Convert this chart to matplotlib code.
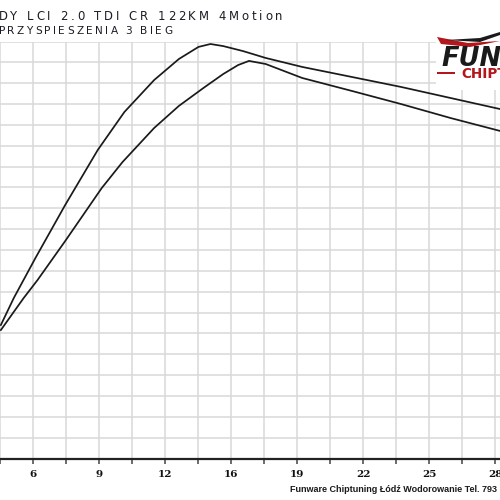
import matplotlib
matplotlib.use("Agg")
import matplotlib.pyplot as plt
from matplotlib.patches import Rectangle, Polygon
from matplotlib.font_manager import FontProperties
from matplotlib.textpath import TextToPath

# ---- data ----
upper_x = [4.44, 5.07, 6.12, 7.56, 9.14, 10.43, 11.87, 13.07, 14.02, 14.60, 15.22,
           16.18, 17.28, 19.05, 21.45, 23.84, 26.24, 28.64, 29.11]
upper_y = [6.40, 7.70, 9.62, 12.16, 14.80, 16.62, 18.15, 19.16, 19.74, 19.88, 19.78,
           19.54, 19.21, 18.78, 18.30, 17.82, 17.29, 16.76, 16.67]

lower_x = [4.44, 5.55, 6.22, 7.56, 9.33, 10.34, 11.87, 13.07, 14.26, 15.22, 15.94,
           16.47, 17.28, 19.05, 21.45, 23.84, 26.24, 28.64, 29.11]
lower_y = [6.16, 7.70, 8.56, 10.43, 12.97, 14.22, 15.85, 16.91, 17.77, 18.44, 18.87,
           19.07, 18.92, 18.25, 17.63, 17.00, 16.33, 15.71, 15.56]

major_ticks = [6, 9.2, 12.4, 15.6, 18.8, 22.0, 25.2, 28.4]
major_labels = ["6", "9", "12", "16", "19", "22", "25", "28"]
minor_ticks = [4.4, 7.6, 10.8, 14.0, 17.2, 20.4, 23.6, 26.8]
y_grid = list(range(0, 21))

title_line1 = "DY LCI 2.0 TDI CR 122KM 4Motion"
title_line2 = "PRZYSPIESZENIA 3 BIEG"
footer = "Funware Chiptuning Łódź Wodorowanie Tel. 793"

W, H = 500, 500
DPI = 100
fig = plt.figure(figsize=(5, 5), dpi=DPI)
fig.patch.set_facecolor("white")

ax = fig.add_axes([0, 1 - 458.5 / H, 1, 417 / H])
ax.set_xlim(4.683, 28.635)
ax.set_ylim(0, 20)

ax.plot(upper_x, upper_y, color="#1a1a1a", lw=1.25, zorder=3)
ax.plot(lower_x, lower_y, color="#1a1a1a", lw=1.25, zorder=3)

ax.set_xticks(major_ticks)
ax.set_xticklabels(major_labels)
ax.set_xticks(minor_ticks, minor=True)
ax.set_yticks(y_grid)
ax.tick_params(axis="y", length=0, labelleft=False)
ax.tick_params(axis="x", which="both", direction="out", length=3.6, width=1.1,
               color="#444444", pad=5)
for lab in ax.get_xticklabels():
    lab.set_fontfamily("DejaVu Serif")
    lab.set_fontweight("bold")
    lab.set_fontsize(7.5)
    lab.set_color("#111111")

ax.grid(True, which="both", axis="x", color="#d9d9d9", lw=1.1, zorder=0)
ax.grid(True, which="major", axis="y", color="#d9d9d9", lw=1.1, zorder=0)
ax.set_axisbelow(True)
for s in ("left", "right", "top"):
    ax.spines[s].set_visible(False)
ax.spines["bottom"].set_color("#222222")
ax.spines["bottom"].set_linewidth(1.6)
ax.spines["bottom"].set_zorder(4)

# tracked (letter-spaced) text, each glyph real text
t2p = TextToPath()


def glyph_w(ch, prop):
    if ch == " ":
        w1 = t2p.get_text_width_height_descent("a a", prop, ismath=False)[0]
        w2 = t2p.get_text_width_height_descent("aa", prop, ismath=False)[0]
        w = w1 - w2
    else:
        w = t2p.get_text_width_height_descent(ch, prop, ismath=False)[0]
    return w * DPI / 72.0


def tracked_text(x0_px, y_px, s, size, target_w_px, color):
    prop = FontProperties(family="DejaVu Sans", size=size)
    widths = [glyph_w(c, prop) for c in s]
    natural = sum(widths)
    track = (target_w_px - natural) / max(len(s) - 1, 1)
    x = x0_px
    for c, w in zip(s, widths):
        if c != " ":
            fig.text(x / W, 1 - y_px / H, c, fontproperties=prop, color=color,
                     ha="left", va="baseline")
        x += w + track


tracked_text(-1.5, 19.5, title_line1, 8.4, 284, "#1c1c26")
tracked_text(-1.5, 33.5, title_line2, 7.6, 174, "#1c1c26")

# logo area
fig.patches.append(Rectangle((436 / W, 1 - 90 / H), 64 / W, 56 / H,
                             transform=fig.transFigure, facecolor="white",
                             edgecolor="none", zorder=5))
fig.patches.append(Polygon([(437 / W, 1 - 37 / H), (468 / W, 1 - 43 / H),
                            (500 / W, 1 - 41 / H), (470 / W, 1 - 47 / H),
                            (441 / W, 1 - 44 / H)],
                           closed=True, transform=fig.transFigure,
                           facecolor="#b3161c", edgecolor="none", zorder=6))
fig.patches.append(Polygon([(446 / W, 1 - 40 / H), (480 / W, 1 - 38 / H),
                            (500 / W, 1 - 32 / H), (500 / W, 1 - 35 / H),
                            (480 / W, 1 - 42 / H)],
                           closed=True, transform=fig.transFigure,
                           facecolor="#1a1a1a", edgecolor="none", zorder=6))
fig.text(441 / W, 1 - 66 / H, "FUNWARE", fontsize=18.5, fontweight="bold",
         style="italic", color="#1a1a1a", ha="left", va="baseline", zorder=7)
fig.text(461 / W, 1 - 78.5 / H, "CHIPTUNING", fontsize=9.8, fontweight="bold",
         color="#b3161c", ha="left", va="baseline", zorder=7)
fig.patches.append(Rectangle((437 / W, 1 - 73.5 / H), 18 / W, 1.2 / H,
                             transform=fig.transFigure, facecolor="#b3161c",
                             edgecolor="none", zorder=6))

# footer
fig.text(290 / W, 1 - 489 / H, footer, fontsize=6.5, fontweight="bold",
         color="#1a1a1a", ha="left", va="center", fontfamily="Liberation Sans")

fig.savefig("out.png", dpi=DPI, facecolor="white")
